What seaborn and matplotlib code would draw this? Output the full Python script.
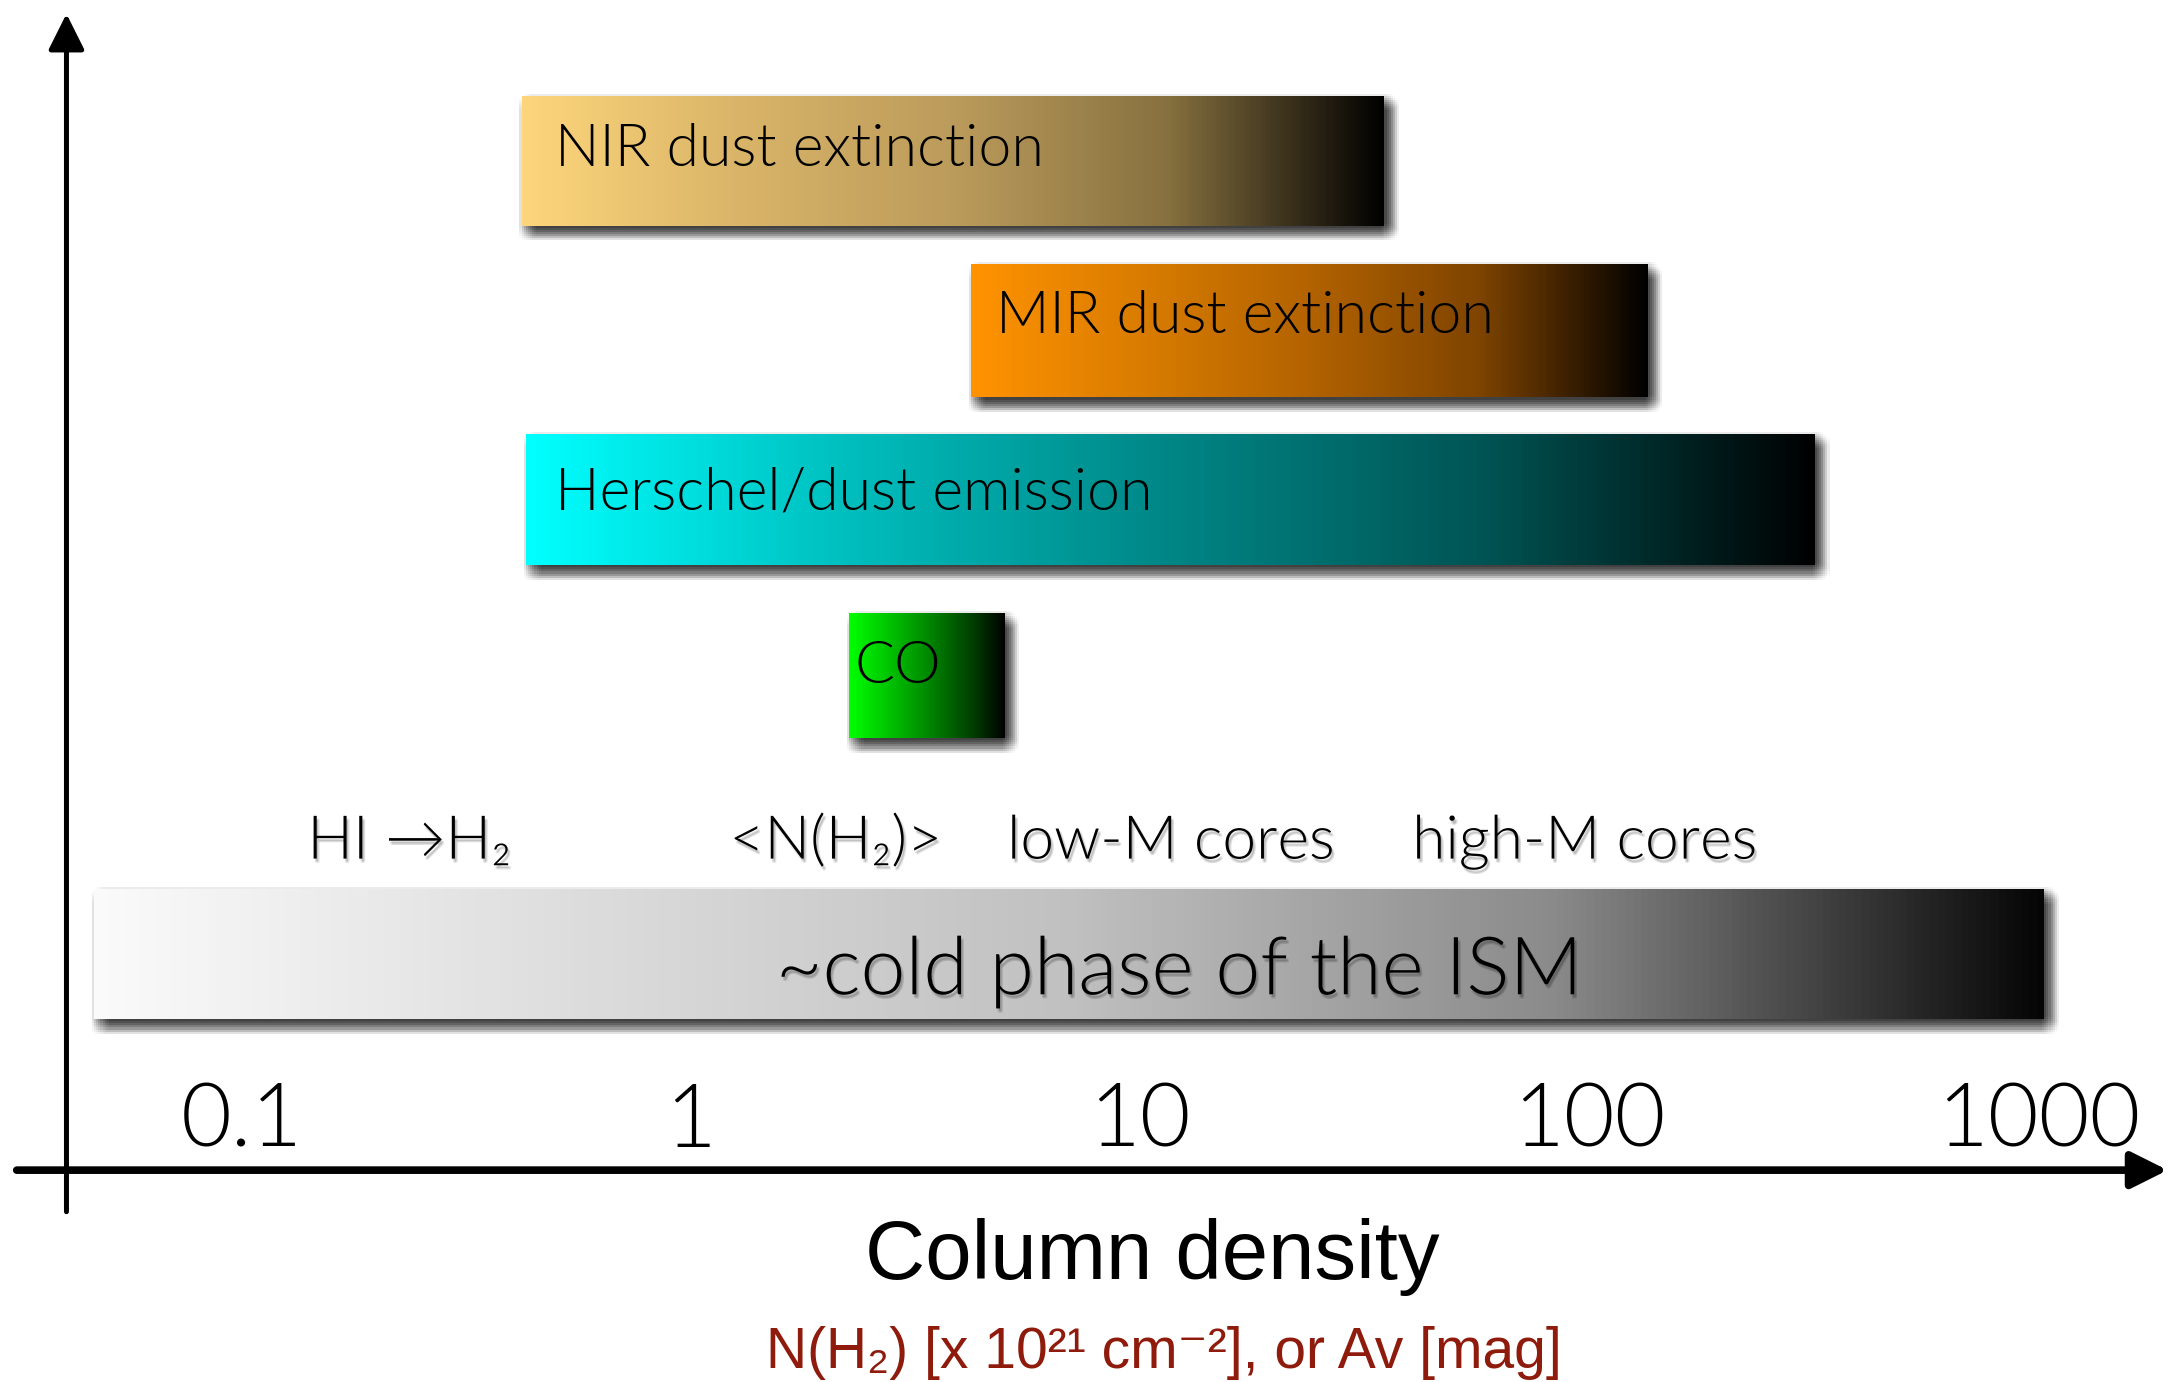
import numpy as np
import matplotlib
matplotlib.use("Agg")
import matplotlib.pyplot as plt
import matplotlib.patheffects as pe
from matplotlib.patches import Rectangle
from matplotlib.ticker import NullLocator
import seaborn as sns

# ---------------- data ----------------
tracer_names = ["NIR dust extinction", "MIR dust extinction", "Herschel/dust emission",
                "CO", "~cold phase of the ISM"]
tracer_lo = [0.42, 4.2, 0.43, 2.25, 0.047]
tracer_hi = [35.0, 135.0, 318.0, 5.0, 1030.0]
tracer_colors = [
    ["#FDD57B", "#D9B468", "#BB9B5B", "#86703F", "#000000"],
    ["#FF9200", "#D97C00", "#B26200", "#7F4400", "#000000"],
    ["#00FFFF", "#00BDBD", "#008585", "#005252", "#000000"],
    ["#00FF00", "#00C400", "#008A00", "#004A00", "#000000"],
    ["#FAFAFA", "#DCDCDC", "#C0C0C0", "#8A8A8A", "#050505"],
]
regime_names = ["HI \u2192H\u2082", "<N(H\u2082)>", "low-M cores", "high-M cores"]
regime_x = [0.236, 2.10, 11.7, 97.7]
ism_label_x = 12.2
tick_values = [0.1, 1, 10, 100, 1000]
tick_labels = ["0.1", "1", "10", "100", "1000"]
xlabel_text = "Column density"
unit_text = "N(H\u2082) [x 10\u00b2\u00b9 cm\u207b\u00b2], or Av [mag]"

# ---------------- layout ----------------
row_y = [5.975, 4.967, 3.970, 2.926, 1.279]
row_h = [0.770, 0.787, 0.779, 0.738, 0.770]
label_dx = [24, 18, 21, 4]
label_dy = [51, 49, 55, 50]
regime_y = 1.844
ism_label_y = 1.041

sns.set_theme(style="white")
GILL = ["Lato", "DejaVu Sans"]
HELV = ["Liberation Sans", "DejaVu Sans"]
plt.rcParams["font.family"] = GILL
plt.rcParams["font.weight"] = 300
plt.rcParams["text.color"] = "black"
plt.rcParams["axes.labelcolor"] = "black"
plt.rcParams["xtick.color"] = "black"

fig = plt.figure(figsize=(21.72, 13.82), dpi=100)
fig.patch.set_facecolor("white")
ax = fig.add_axes([0, 0.1533, 1, 0.8467])
ax.set_facecolor("white")
ax.set_xscale("log")
ax.set_xlim(0.029, 1982)
ax.set_ylim(0, 6.926)
for s in ax.spines.values():
    s.set_visible(False)
ax.set_yticks([])
ax.set_xticks(tick_values, tick_labels)
ax.xaxis.set_minor_locator(NullLocator())
ax.tick_params(axis="x", length=0, pad=-17, labelsize=63, colors="black")
for t in ax.get_xticklabels():
    t.set_va("baseline")
    t.set_fontweight(300)


def soft_shadow(center, radius, step, alpha, color="black"):
    effects = []
    r = np.arange(-radius, radius + 1e-9, step)
    for dx in r:
        for dy in r:
            if dx * dx + dy * dy <= radius * radius + 1e-9:
                effects.append(pe.SimplePatchShadow(offset=(center[0] + dx, center[1] + dy),
                                                    shadow_rgbFace=color, alpha=alpha))
    return effects


bar_shadow = soft_shadow((4, -5), 7, 1.5, 0.018)
text_shadow = soft_shadow((1.5, -2.5), 1.5, 1.0, 0.07)

for lo, hi, yc, h, cols in zip(tracer_lo, tracer_hi, row_y, row_h, tracer_colors):
    rect = Rectangle((lo, yc - h / 2), hi - lo, h, facecolor=cols[0],
                     edgecolor="none", zorder=2)
    rect.set_path_effects(bar_shadow + [pe.Normal()])
    ax.add_patch(rect)
    cmap = sns.blend_palette(cols, n_colors=256, as_cmap=True)
    xe = np.geomspace(lo, hi, 257)
    ax.pcolormesh(xe, [yc - h / 2, yc + h / 2], np.linspace(0, 1, 256)[None, :],
                  cmap=cmap, vmin=0, vmax=1, shading="flat", zorder=3,
                  antialiased=False, edgecolors="none")

for name, lo, yc, h, dx, dy in zip(tracer_names[:4], tracer_lo, row_y, row_h,
                                    label_dx, label_dy):
    ax.annotate(name, xy=(lo, yc + h / 2), xytext=(dx, -dy), textcoords="offset points",
                ha="left", va="baseline", fontsize=42.5, color="black", zorder=5)

ax.text(ism_label_x, ism_label_y, tracer_names[4], ha="center", va="baseline",
        fontsize=58, color="black", zorder=5, path_effects=text_shadow + [pe.Normal()])

for name, x in zip(regime_names, regime_x):
    ax.text(x, regime_y, name, ha="center", va="baseline", fontsize=43.5, color="black",
            zorder=5, path_effects=text_shadow + [pe.Normal()])

# axis arrows
ax.annotate("", xy=(0.0306, 0.9882), xytext=(0.0306, -0.0355), xycoords="axes fraction",
            arrowprops=dict(arrowstyle="-|>,head_length=0.5,head_width=0.25",
                            mutation_scale=44, lw=3.6, color="black", shrinkA=0, shrinkB=0),
            annotation_clip=False, zorder=6)
ax.annotate("", xy=(0.998, 0.0), xytext=(0.0077, 0.0), xycoords="axes fraction",
            arrowprops=dict(arrowstyle="-|>,head_length=0.5,head_width=0.25",
                            mutation_scale=44, lw=5.5, color="black", shrinkA=0, shrinkB=0,
                            path_effects=[pe.SimplePatchShadow(offset=(1, -2.5), alpha=0.25),
                                          pe.Normal()]),
            annotation_clip=False, zorder=6)

ax.set_xlabel(xlabel_text, fontsize=60, family=HELV, fontweight="normal", va="baseline",
              color="black")
ax.xaxis.set_label_coords(0.5306, -0.0929)
ax.text(0.5357, -0.169, unit_text, transform=ax.transAxes, ha="center", va="baseline",
        fontsize=41, color="#8E1B0B", family=HELV, fontweight="normal")

fig.savefig("out.png", dpi=100, facecolor="white")
